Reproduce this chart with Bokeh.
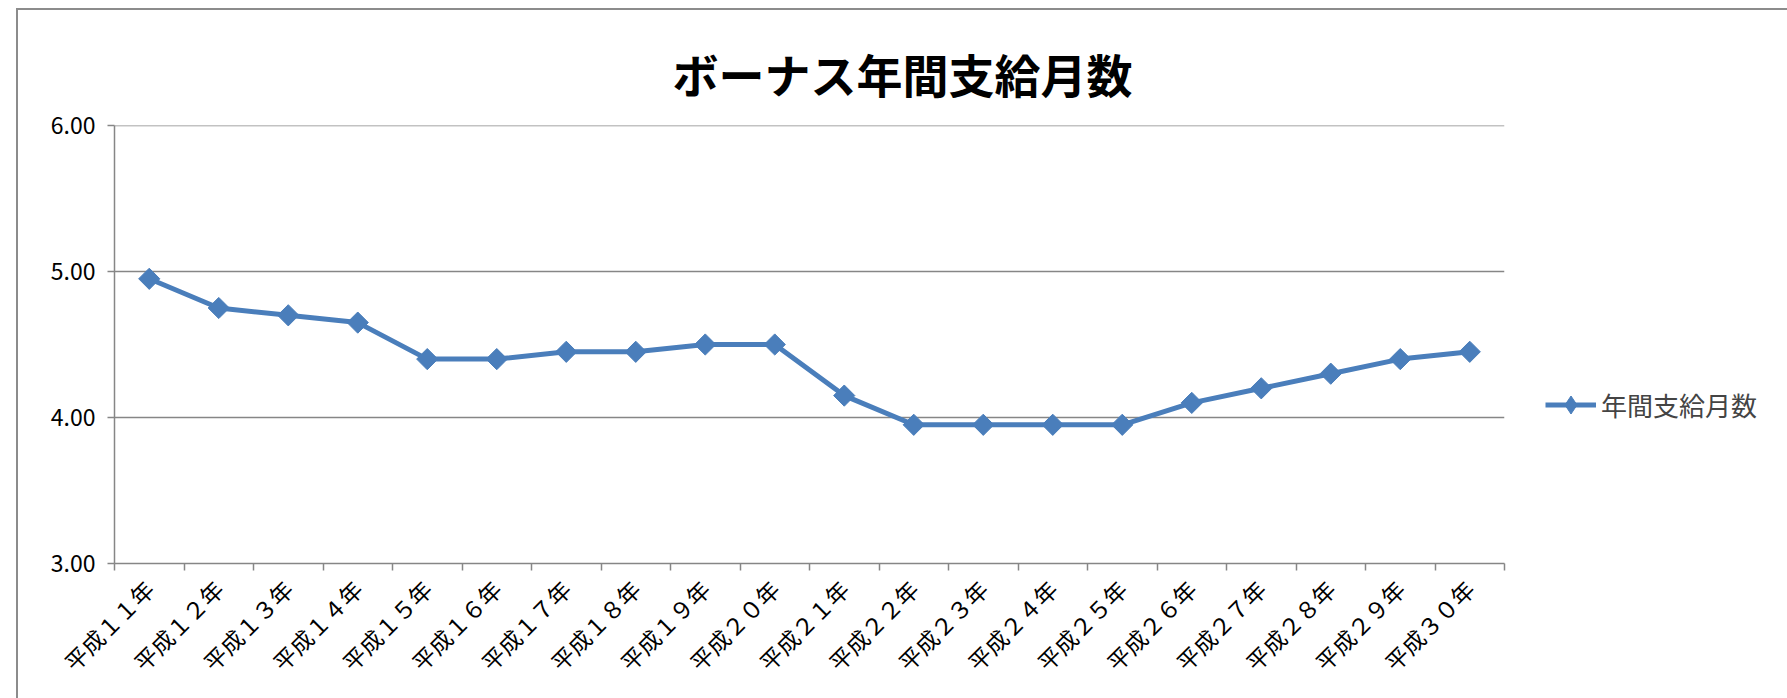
from bokeh.plotting import figure
from bokeh.models import FixedTicker, Legend, LegendItem, NumeralTickFormatter, Range1d, Span, Title
from bokeh.embed import file_html
from bokeh.resources import INLINE
import math

# データ
years = ["平成１１年", "平成１２年", "平成１３年", "平成１４年", "平成１５年",
         "平成１６年", "平成１７年", "平成１８年", "平成１９年", "平成２０年",
         "平成２１年", "平成２２年", "平成２３年", "平成２４年", "平成２５年",
         "平成２６年", "平成２７年", "平成２８年", "平成２９年", "平成３０年"]
months = [4.95, 4.75, 4.70, 4.65, 4.40, 4.40, 4.45, 4.45, 4.50, 4.50,
          4.15, 3.95, 3.95, 3.95, 3.95, 4.10, 4.20, 4.30, 4.40, 4.45]
y_ticks = [3, 4, 5, 6]

FONT = "Noto Sans CJK JP"
BLUE = "#4A7EBB"
GRAY = "#868686"

xs = list(range(len(years)))

p = figure(
    frame_width=1390,
    frame_height=438,
    min_border_left=96,
    min_border_right=279,
    min_border_top=115,
    min_border_bottom=140,
    x_range=Range1d(-0.5, len(years) - 0.5),
    y_range=Range1d(y_ticks[0], y_ticks[-1]),
    output_backend="svg",
    toolbar_location=None,
)
# 外枠 (グラフエリア)
p.styles = {"border-left": "2px solid #8c8c8c", "border-top": "2px solid #8c8c8c",
            "border-right": "2px solid #8c8c8c", "margin-left": "16px", "margin-top": "8px"}

p.add_layout(Title(text="ボーナス年間支給月数", text_font=FONT, text_font_size="46px",
                   text_font_style="bold", text_color="black", align="left",
                   offset=558, standoff=40), "above")

line = p.line(xs, months, line_color=BLUE, line_width=5)
pts = p.scatter(xs, months, marker="square", angle=math.pi / 4, size=15,
                fill_color=BLUE, line_color=BLUE)
# 凡例用のひし形 (図には描かれない)
key = p.scatter([float("nan")], [float("nan")], marker="diamond", size=20,
                fill_color=BLUE, line_color=BLUE)

p.outline_line_color = None
p.xgrid.grid_line_color = None
p.ygrid.grid_line_color = GRAY
p.ygrid.grid_line_width = 1.5
# 一番上の目盛線
p.add_layout(Span(location=y_ticks[-1], dimension="width", line_color=GRAY, line_width=1.5))

# x軸: ラベルは中央、目盛りは境界
p.xaxis.ticker = FixedTicker(ticks=xs, minor_ticks=[x - 0.5 for x in range(len(years) + 1)])
p.xaxis.major_label_overrides = {i: y for i, y in enumerate(years)}
p.xaxis.major_tick_line_color = None
p.xaxis.minor_tick_line_color = GRAY
p.xaxis.minor_tick_line_width = 1.5
p.xaxis.minor_tick_in = 0
p.xaxis.minor_tick_out = 7
p.xaxis.major_label_orientation = math.pi / 4
p.xaxis.major_label_standoff = 14

p.yaxis.ticker = FixedTicker(ticks=y_ticks)
p.yaxis.formatter = NumeralTickFormatter(format="0.00")
p.yaxis.minor_tick_line_color = None
p.yaxis.major_tick_line_color = GRAY
p.yaxis.major_tick_line_width = 1.5
p.yaxis.major_tick_in = 0
p.yaxis.major_tick_out = 7
p.yaxis.major_label_standoff = 12

for ax in (p.xaxis, p.yaxis):
    ax.axis_line_color = GRAY
    ax.axis_line_width = 1.5
    ax.major_label_text_font = FONT
    ax.major_label_text_font_size = "23px"
    ax.major_label_text_color = "black"

legend = Legend(items=[LegendItem(label="年間支給月数", renderers=[line, key])],
                location=(41, 136), border_line_color=None, background_fill_alpha=0,
                label_text_font=FONT, label_text_font_size="26px",
                glyph_width=51, glyph_height=45, label_standoff=5, padding=0, margin=0)
p.add_layout(legend, "right")

open("out.html", "w").write(file_html(p, INLINE))
